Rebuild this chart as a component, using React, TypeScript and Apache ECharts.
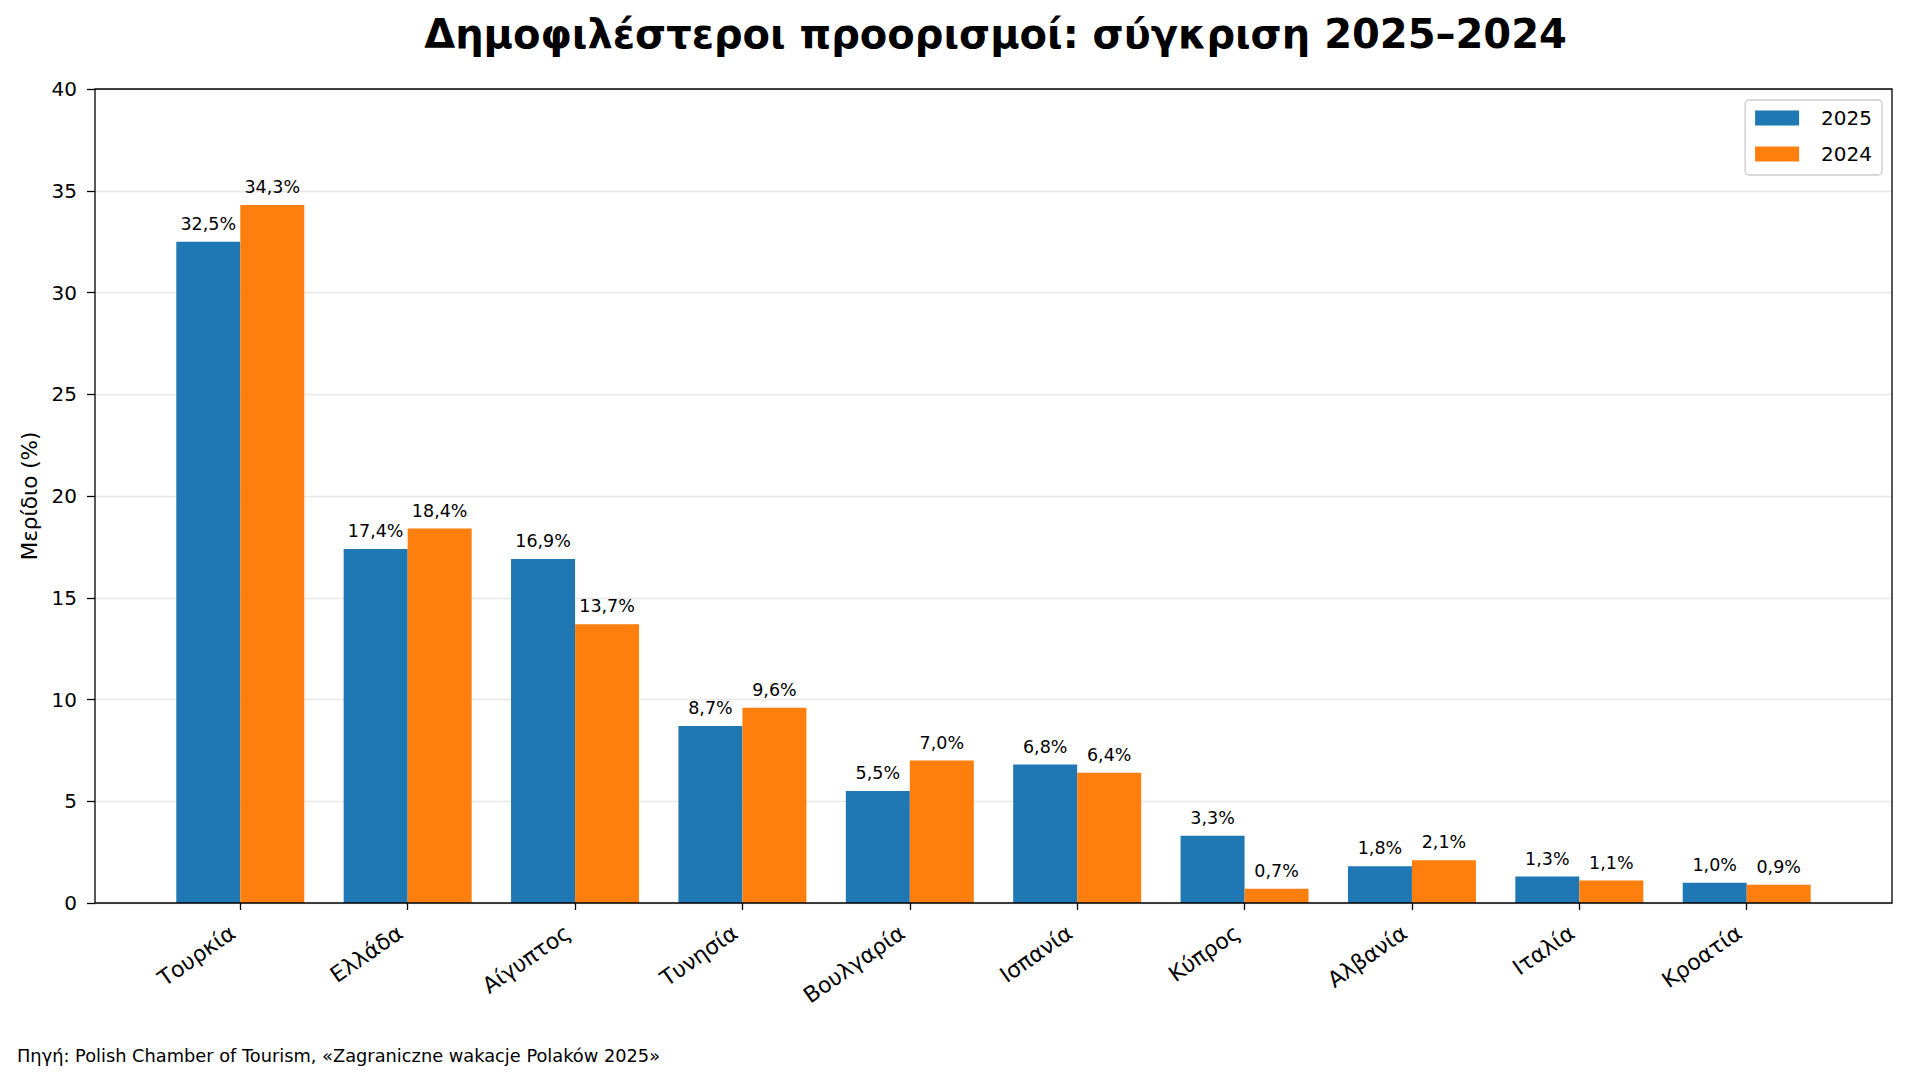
import * as echarts from 'echarts';
import { useEffect, useRef } from 'react';

const CATEGORIES = ['Τουρκία', 'Ελλάδα', 'Αίγυπτος', 'Τυνησία', 'Βουλγαρία', 'Ισπανία', 'Κύπρος', 'Αλβανία', 'Ιταλία', 'Κροατία'];
const SHARE_2025 = [32.5, 17.4, 16.9, 8.7, 5.5, 6.8, 3.3, 1.8, 1.3, 1.0];
const SHARE_2024 = [34.3, 18.4, 13.7, 9.6, 7.0, 6.4, 0.7, 2.1, 1.1, 0.9];
const SERIES_NAMES = ['2025', '2024'];
const Y_MIN = 0;
const Y_MAX = 40;
const Y_STEP = 5;

const TITLE = 'Δημοφιλέστεροι προορισμοί: σύγκριση 2025–2024';
const Y_NAME = 'Μερίδιο (%)';
const SOURCE = 'Πηγή: Polish Chamber of Tourism, «Zagraniczne wakacje Polaków 2025»';

const W = 1908;
const H = 1081;
const FONT = '"DejaVu Sans", sans-serif';

// frame of the axes (px), and the band area used by the bars (matplotlib-like margins)
const FRAME = { left: 95, right: 1892, top: 89, bottom: 903 };
const UNITS = 10.736; // xlim span in category units
const BAND = (FRAME.right - FRAME.left) / UNITS;
const BAND_LEFT = FRAME.left + 0.868 * BAND - BAND / 2;
const BAND_RIGHT = BAND_LEFT + BAND * CATEGORIES.length;

const fmt = (v: number) => `${v.toFixed(1).replace('.', ',')}%`;

export default function App() {
  const ref = useRef<HTMLDivElement | null>(null);

  useEffect(() => {
    if (!ref.current) return undefined;
    const chart = echarts.init(ref.current, undefined, { renderer: 'svg' });

    const barLabel = {
      show: true,
      position: 'top' as const,
      distance: 9,
      fontSize: 17.5,
      fontFamily: FONT,
      color: '#000',
      formatter: (p: { value: number }) => fmt(p.value),
    };

    chart.setOption({
      animation: false,
      backgroundColor: '#fff',
      textStyle: { fontFamily: FONT },
      title: {
        text: TITLE,
        left: (FRAME.left + FRAME.right) / 2 - 3,
        textAlign: 'center',
        top: 9,
        textStyle: { fontSize: 40, fontWeight: 'bold', color: '#000', fontFamily: FONT },
      },
      legend: {
        data: SERIES_NAMES,
        orient: 'vertical',
        right: W - 1882,
        top: 100,
        itemWidth: 44,
        itemHeight: 15,
        itemGap: 16,
        padding: [8, 10, 11, 10],
        borderColor: '#cccccc',
        borderWidth: 1.3,
        borderRadius: 4,
        backgroundColor: 'rgba(255,255,255,0.8)',
        icon: 'rect',
        textStyle: { fontSize: 20, color: '#000', fontFamily: FONT, padding: [0, 0, 0, 17] },
      },
      grid: [
        {
          left: FRAME.left,
          right: W - FRAME.right,
          top: FRAME.top,
          bottom: H - FRAME.bottom,
          show: true,
          borderColor: '#000',
          borderWidth: 1.3,
          backgroundColor: 'transparent',
          z: 10,
        },
        {
          left: BAND_LEFT,
          right: W - BAND_RIGHT,
          top: FRAME.top,
          bottom: H - FRAME.bottom,
        },
      ],
      xAxis: [
        { type: 'value', gridIndex: 0, min: 0, max: 1, show: false },
        {
          type: 'category',
          gridIndex: 1,
          data: CATEGORIES,
          axisLine: { show: false },
          axisTick: { show: true, alignWithLabel: true, length: 7, lineStyle: { color: '#000', width: 1.3 } },
          axisLabel: {
            rotate: 35,
            fontSize: 22,
            color: '#000',
            fontFamily: FONT,
            margin: 22,
            padding: [0, 9, 0, 0],
            interval: 0,
          },
          splitLine: { show: false },
        },
      ],
      yAxis: [
        {
          type: 'value',
          gridIndex: 0,
          min: Y_MIN,
          max: Y_MAX,
          interval: Y_STEP,
          name: Y_NAME,
          nameLocation: 'middle',
          nameGap: 55,
          nameTextStyle: { fontSize: 21.5, color: '#000', fontFamily: FONT },
          axisLine: { show: false },
          axisTick: { show: true, length: 8, lineStyle: { color: '#000', width: 1.3 } },
          axisLabel: { fontSize: 20, color: '#000', fontFamily: FONT, margin: 18 },
          splitLine: { show: true, lineStyle: { color: '#e8e8e8', width: 1.3 } },
        },
        { type: 'value', gridIndex: 1, min: Y_MIN, max: Y_MAX, show: false },
      ],
      series: [
        {
          name: SERIES_NAMES[0],
          type: 'bar',
          xAxisIndex: 1,
          yAxisIndex: 1,
          data: SHARE_2025,
          barWidth: 64,
          barGap: '0%',
          itemStyle: { color: '#1f77b4' },
          label: barLabel,
        },
        {
          name: SERIES_NAMES[1],
          type: 'bar',
          xAxisIndex: 1,
          yAxisIndex: 1,
          data: SHARE_2024,
          barWidth: 64,
          barGap: '0%',
          itemStyle: { color: '#ff7f0e' },
          label: barLabel,
        },
      ],
      graphic: [
        {
          type: 'text',
          left: 17,
          top: 1046,
          style: { text: SOURCE, fontSize: 17.8, fill: '#000', fontFamily: FONT },
        },
      ],
    });

    return () => chart.dispose();
  }, []);

  return <div ref={ref} style={{ position: 'absolute', left: 0, top: 0, width: W, height: H }} />;
}
